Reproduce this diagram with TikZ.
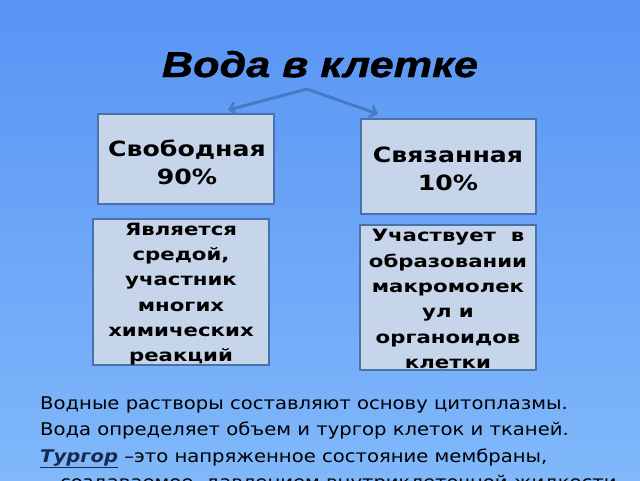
\documentclass[tikz,border=0pt]{standalone}
\usepackage{fontspec}
\setmainfont[FakeStretch=1.12]{DejaVu Sans}
\newfontfamily\titlefont[FakeStretch=1.2,FakeBold=1.2]{Liberation Sans}
\newfontfamily\cardfont[FakeStretch=1.2]{DejaVu Sans}
\newfontfamily\descfont[FakeStretch=1.25]{DejaVu Sans}
\usetikzlibrary{arrows.meta}
\definecolor{bgtop}{RGB}{88,148,244}
\definecolor{bgbot}{RGB}{128,184,250}
\definecolor{boxfill}{RGB}{198,213,234}
\definecolor{boxline}{RGB}{74,114,170}
\definecolor{arrcol}{RGB}{72,122,196}
\definecolor{navy}{RGB}{26,40,80}
\tikzset{
  card/.style={draw=boxline, line width=1.6pt, fill=boxfill, inner sep=0pt},
  cardtext/.style={align=center, font=\cardfont\bfseries\fontsize{21}{28}\selectfont, inner sep=0pt},
  desctext/.style={align=center, font=\descfont\bfseries\fontsize{17}{25.3}\selectfont, inner sep=0pt},
  bodytext/.style={anchor=base west, font=\fontsize{17.5}{21}\selectfont, inner sep=0pt},
  link/.style={draw=arrcol, line width=3pt, -{Straight Barb[length=6pt,width=12pt,line width=2.5pt]}}
}
\begin{document}
\begin{tikzpicture}[x=1pt,y=-1pt]
\useasboundingbox (0,0) rectangle (640,480);
\shade[top color=bgtop, bottom color=bgbot] (0,0) rectangle (640,480);
\node[inner sep=0pt, anchor=base, font=\titlefont\bfseries\itshape\fontsize{36}{40}\selectfont] (title) at (320,77) {Вода в клетке};
% boxes
\node[card, minimum width=176pt, minimum height=90pt] (b1) at (186,159) {};
\node[card, minimum width=175pt, minimum height=95pt] (b2) at (448.5,166.5) {};
\node[card, minimum width=176pt, minimum height=146pt] (b3) at (181,292) {};
\node[card, minimum width=176pt, minimum height=145pt] (b4) at (448,297.5) {};
\node[cardtext] (t1) at (187,162) {Свободная\\90\%};
\node[cardtext] (t2) at (448,169) {Связанная\\10\%};
\node[desctext] (t3) at (181,294) {Является\\средой,\\участник\\многих\\химических\\реакций};
\node[desctext] (t4) at (448,299) {Участвует\ \ в\\образовании\\макромолек\\ул\ и\\органоидов\\клетки};
% arrows
\coordinate (apex) at (307,89);
\coordinate (lend) at (228,110);
\coordinate (rend) at (378,114);
\draw[link] (apex) -- (lend);
\draw[link] (apex) -- (rend);
% body text
\node[bodytext] (l1) at (40,409) {Водные растворы составляют основу цитоплазмы.};
\node[bodytext] (l2) at (40,435.5) {Вода определяет объем и тургор клеток и тканей.};
\node[bodytext] (l3) at (40,462) {\textcolor{navy}{\bfseries\itshape\underline{Тургор}} –это напряженное состояние мембраны,};
\node[bodytext] (l4) at (60,488.5) {создаваемое\ \ давлением внутриклеточной жидкости};
\end{tikzpicture}
\end{document}
